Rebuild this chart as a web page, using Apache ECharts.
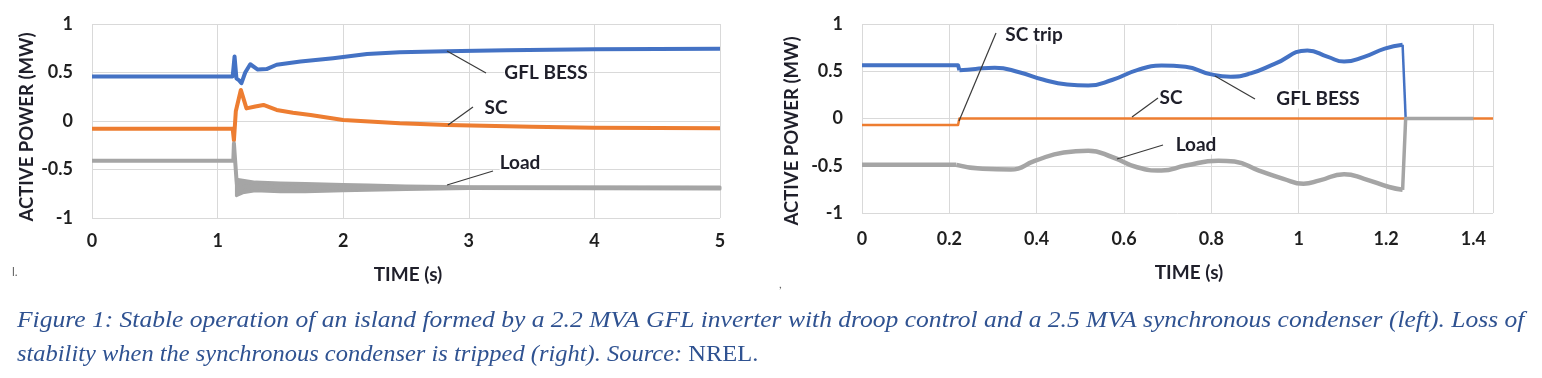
<!DOCTYPE html>
<html>
<head>
<meta charset="utf-8">
<script src="https://cdn.jsdelivr.net/npm/echarts@6/dist/echarts.min.js"></script>
<style>
html, body { margin: 0; padding: 0; background: #fff; }
#main { width: 1542px; height: 378px; }
</style>
</head>
<body>
<div id="main"></div>
<script>
// 左图: SC 在网, 孤岛稳定
var leftBessT = [0, 1.12, 1.135, 1.15, 1.17, 1.19, 1.22, 1.26, 1.32, 1.39, 1.47, 1.66, 1.92, 2.19, 2.45, 2.82, 3.3, 4, 5];
var leftBessP = [0.46, 0.46, 0.665, 0.44, 0.42, 0.39, 0.5, 0.585, 0.53, 0.535, 0.58, 0.613, 0.648, 0.69, 0.71, 0.72, 0.73, 0.74, 0.745];

var leftScT = [0, 1.12, 1.13, 1.145, 1.185, 1.23, 1.3, 1.365, 1.47, 1.6, 1.74, 2.0, 2.45, 2.83, 3.5, 4, 5];
var leftScP = [-0.08, -0.08, -0.2, 0.1, 0.32, 0.13, 0.15, 0.165, 0.114, 0.085, 0.062, 0.01, -0.024, -0.041, -0.06, -0.07, -0.076];

var leftLoadT = [0, 1.125, 1.13, 1.15, 1.16, 1.2, 1.3, 1.7, 2.2, 3, 5];
var leftLoadP = [-0.41, -0.41, -0.23, -0.6, -0.74, -0.68, -0.675, -0.685, -0.69, -0.687, -0.69];
// 负荷振荡带的上下包络
var leftLoadBandT = [1.15, 1.2, 1.3, 1.5, 1.7, 2.0, 2.2, 2.5, 3, 5];
var leftLoadUpper = [-0.6, -0.61, -0.63, -0.64, -0.645, -0.655, -0.66, -0.67, -0.677, -0.68];
var leftLoadLower = [-0.77, -0.74, -0.72, -0.73, -0.73, -0.72, -0.715, -0.705, -0.697, -0.7];

// 右图: SC 跳闸, 失稳
var rightBessT = [0, 0.22, 0.223, 0.26, 0.304, 0.36, 0.416, 0.47, 0.518, 0.574, 0.63, 0.686, 0.741, 0.797, 0.844, 0.89, 0.946, 1.02, 1.067, 1.104, 1.15, 1.197, 1.238, 1.245];
var rightBessP = [0.564, 0.564, 0.51, 0.525, 0.537, 0.49, 0.41, 0.36, 0.348, 0.41, 0.512, 0.56, 0.547, 0.47, 0.442, 0.477, 0.58, 0.72, 0.652, 0.602, 0.652, 0.739, 0.78, 0];

var rightScT = [0, 0.22, 0.223, 1.445];
var rightScP = [-0.07, -0.07, 0, 0];

var rightLoadT = [0, 0.216, 0.276, 0.341, 0.397, 0.462, 0.518, 0.574, 0.63, 0.686, 0.741, 0.816, 0.853, 0.909, 0.965, 1.011, 1.048, 1.104, 1.15, 1.207, 1.238, 1.245, 1.4];
var rightLoadP = [-0.49, -0.49, -0.533, -0.54, -0.446, -0.359, -0.341, -0.41, -0.516, -0.551, -0.498, -0.446, -0.456, -0.551, -0.638, -0.69, -0.655, -0.59, -0.638, -0.725, -0.755, 0, 0];

var yTicks = { min: -1, max: 1, interval: 0.5 };

function pairs(t, v) {
    return t.map(function (x, i) { return [x, v[i]]; });
}

var C_BLUE = '#4472C4', C_ORANGE = '#ED7D31', C_GREY = '#A5A5A5';
var GRID_LINE = '#D9D9D9';
var FONT = 'Lato, "Liberation Sans", sans-serif';
var CAPTION_FONT = '"Liberation Serif", serif';

function lineSeries(name, idx, data, color, width, smooth) {
    return {
        name: name,
        type: 'line',
        xAxisIndex: idx,
        yAxisIndex: idx,
        data: data,
        showSymbol: false,
        smooth: smooth || false,
        silent: true,
        lineStyle: { color: color, width: width, join: 'round' },
        itemStyle: { color: color }
    };
}

// 振荡带: 用上下包络围成的多边形
function bandSeries(idx, t, up, lo, color) {
    return {
        type: 'custom',
        xAxisIndex: idx,
        yAxisIndex: idx,
        silent: true,
        encode: { x: 0, y: [1, 2] },
        data: t.map(function (x, i) { return [x, up[i], lo[i]]; }),
        renderItem: function (params, api) {
            if (params.dataIndex !== 0) return null;
            var pts = [];
            t.forEach(function (x, i) { pts.push(api.coord([x, up[i]])); });
            for (var i = t.length - 1; i >= 0; i--) pts.push(api.coord([t[i], lo[i]]));
            return {
                type: 'polygon',
                shape: { points: pts },
                style: { fill: color, stroke: color, lineWidth: 3, lineJoin: 'round' }
            };
        }
    };
}

function xAx(idx, max, interval, margin) {
    return {
        type: 'value', gridIndex: idx, min: 0, max: max, interval: interval,
        axisLine: { show: false }, axisTick: { show: false },
        splitLine: { lineStyle: { color: GRID_LINE, width: 1 } },
        axisLabel: { margin: margin, showMaxLabel: idx === 0, color: '#1f1f1f', fontFamily: FONT, fontWeight: 'bold', fontSize: 18 }
    };
}

function yAx(idx) {
    return {
        type: 'value', gridIndex: idx, min: yTicks.min, max: yTicks.max, interval: yTicks.interval,
        axisLine: { show: false }, axisTick: { show: false },
        splitLine: { lineStyle: { color: GRID_LINE, width: 1 } },
        axisLabel: { margin: 19, color: '#1f1f1f', fontFamily: FONT, fontWeight: 'bold', fontSize: 18 }
    };
}

function txt(x, y, s, size, rot) {
    return {
        type: 'text', x: x, y: y, rotation: rot || 0, silent: true, z: 10,
        style: { text: s, font: 'bold ' + size + 'px ' + FONT, fill: '#1f1f2a', align: 'center', verticalAlign: 'middle' }
    };
}

function label(x, y, s) {
    var t = txt(x, y, s, 19);
    t.style.backgroundColor = '#fff';
    return t;
}

function leader(x1, y1, x2, y2) {
    return {
        type: 'line', silent: true, z: 11,
        shape: { x1: x1, y1: y1, x2: x2, y2: y2 },
        style: { stroke: '#3a3a3a', lineWidth: 1.2 }
    };
}

function caption(y, s, sx) {
    return {
        type: 'text', x: 17, y: y, scaleX: sx, silent: true,
        style: {
            text: s,
            font: 'italic 24px ' + CAPTION_FONT, fill: '#2F5291', verticalAlign: 'middle',
            rich: { r: { font: '24px ' + CAPTION_FONT, fill: '#2F5291' } }
        }
    };
}

// 右图的阶跃段不平滑, 中间振荡段平滑
var rb = pairs(rightBessT, rightBessP), nb = rb.length;
var rl = pairs(rightLoadT, rightLoadP), nl = rl.length;

var chart = echarts.init(document.getElementById('main'));
var option = {
    animation: false,
    grid: [
        { left: 92, top: 24, width: 628, height: 194 },
        { left: 862, top: 24, width: 631, height: 189 }
    ],
    xAxis: [xAx(0, 5, 1, 14), xAx(1, 1.445, 0.2, 17)],
    yAxis: [yAx(0), yAx(1)],
    series: [
        lineSeries('GFL BESS', 0, pairs(leftBessT, leftBessP), C_BLUE, 4),
        lineSeries('SC', 0, pairs(leftScT, leftScP), C_ORANGE, 4),
        lineSeries('Load', 0, pairs(leftLoadT, leftLoadP), C_GREY, 4),
        bandSeries(0, leftLoadBandT, leftLoadUpper, leftLoadLower, C_GREY),
        lineSeries('GFL BESS', 1, rb.slice(0, 3), C_BLUE, 4),
        lineSeries('GFL BESS', 1, rb.slice(2, nb - 1), C_BLUE, 4, 0.5),
        lineSeries('GFL BESS', 1, rb.slice(nb - 2), C_BLUE, 2.5),
        lineSeries('SC', 1, pairs(rightScT, rightScP), C_ORANGE, 2.5),
        lineSeries('Load', 1, rl.slice(0, 2), C_GREY, 4.5),
        lineSeries('Load', 1, rl.slice(1, nl - 2), C_GREY, 4.5, 0.5),
        lineSeries('Load', 1, rl.slice(nl - 3), C_GREY, 3.5)
    ],
    graphic: [
        // 坐标轴标题
        txt(27, 127, 'ACTIVE POWER (MW)', 18.5, Math.PI / 2),
        txt(792, 131, 'ACTIVE POWER (MW)', 18.5, Math.PI / 2),
        txt(408, 275, 'TIME (s)', 19),
        txt(1189, 273, 'TIME (s)', 19),
        // 曲线标注 - 左
        leader(447, 51, 486, 73), label(546, 73, 'GFL BESS'),
        leader(448, 125, 473, 107), label(496, 108, 'SC'),
        leader(447, 185, 493, 171), label(520, 163, 'Load'),
        // 曲线标注 - 右
        leader(959, 121, 996, 33), label(1034, 35, 'SC trip'),
        leader(1132, 117, 1158, 98), label(1171, 98, 'SC'),
        leader(1215, 76, 1255, 99), label(1318, 99, 'GFL BESS'),
        leader(1117, 159, 1163, 145), label(1196, 145, 'Load'),
        // 零散标记
        { type: 'text', x: 12, y: 266, silent: true, style: { text: 'l.', font: '12px ' + FONT, fill: '#666' } },
        { type: 'text', x: 779, y: 278, silent: true, style: { text: ',', font: '12px ' + FONT, fill: '#666' } },
        // 图注
        caption(321, 'Figure 1: Stable operation of an island formed by a 2.2 MVA GFL inverter with droop control and a 2.5 MVA synchronous condenser (left). Loss of', 1.064),
        caption(355, 'stability when the synchronous condenser is tripped (right). Source: {r|NREL.}', 1.02)
    ]
};
chart.setOption(option);
</script>
</body>
</html>
